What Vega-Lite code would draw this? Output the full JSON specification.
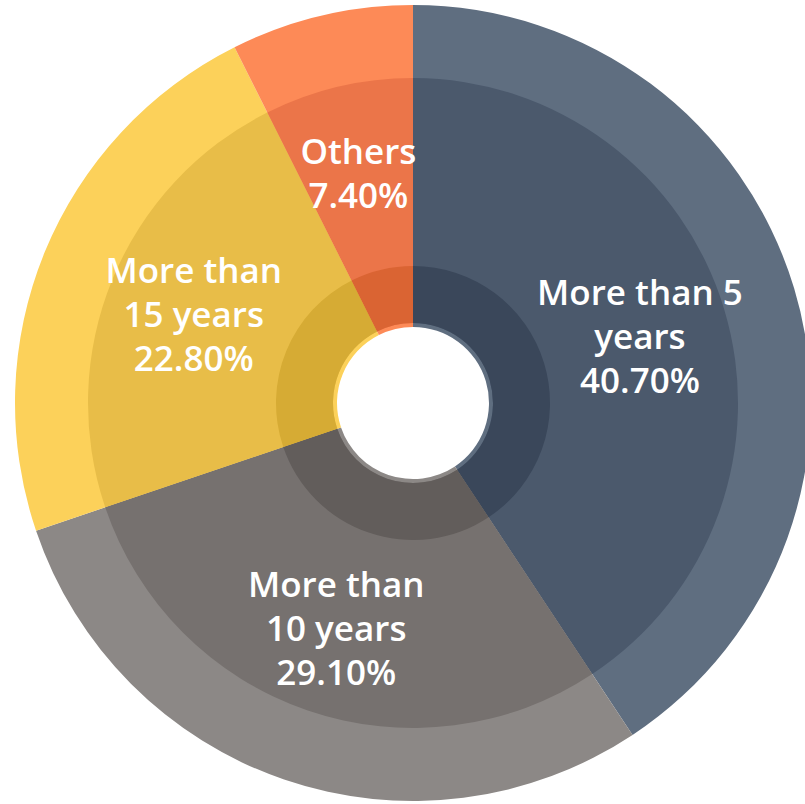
{
  "$schema": "https://vega.github.io/schema/vega-lite/v6.json",
  "width": 826,
  "height": 806,
  "autosize": "none",
  "padding": 0,
  "background": "white",
  "config": {"view": {"stroke": null}},
  "data": {
    "values": [
      {"category": "More than 5 years", "label": "More than 5\nyears\n40.70%", "lines": 3, "value": 40.7, "order": 1},
      {"category": "More than 10 years", "label": "More than\n10 years\n29.10%", "lines": 3, "value": 29.1, "order": 2},
      {"category": "More than 15 years", "label": "More than\n15 years\n22.80%", "lines": 3, "value": 22.8, "order": 3},
      {"category": "Others", "label": "Others\n7.40%", "lines": 2, "value": 7.4, "order": 4}
    ]
  },
  "encoding": {
    "theta": {"field": "value", "type": "quantitative", "stack": true},
    "order": {"field": "order", "type": "quantitative"}
  },
  "layer": [
    {
      "mark": {"type": "arc", "outerRadius": 398, "innerRadius": 76},
      "encoding": {
        "color": {
          "field": "category",
          "type": "nominal",
          "scale": {
            "domain": ["More than 5 years", "More than 10 years", "More than 15 years", "Others"],
            "range": ["#5f6e80", "#8c8886", "#fcd15a", "#fd8a57"]
          },
          "legend": null
        }
      }
    },
    {
      "mark": {"type": "arc", "outerRadius": 325, "innerRadius": 80},
      "encoding": {
        "color": {
          "field": "category",
          "type": "nominal",
          "scale": {
            "domain": ["More than 5 years", "More than 10 years", "More than 15 years", "Others"],
            "range": ["#4b596c", "#76716f", "#e8bd48", "#eb7549"]
          },
          "legend": null
        }
      }
    },
    {
      "mark": {"type": "arc", "outerRadius": 137, "innerRadius": 80},
      "encoding": {
        "color": {
          "field": "category",
          "type": "nominal",
          "scale": {
            "domain": ["More than 5 years", "More than 10 years", "More than 15 years", "Others"],
            "range": ["#3a475a", "#625d5b", "#d6ab34", "#da6433"]
          },
          "legend": null
        }
      }
    },
    {
      "mark": {
        "type": "text",
        "radius": 237,
        "lineBreak": "\n",
        "fontSize": 35,
        "fontWeight": 600,
        "lineHeight": 44,
        "dy": -41,
        "font": "Open Sans",
        "color": "white",
        "align": "center",
        "baseline": "middle"
      },
      "encoding": {
        "text": {"field": "label"},
        "opacity": {"condition": {"test": "datum.lines == 3", "value": 1}, "value": 0}
      }
    },
    {
      "mark": {
        "type": "text",
        "radius": 237,
        "lineBreak": "\n",
        "fontSize": 35,
        "fontWeight": 600,
        "lineHeight": 44,
        "dy": -19,
        "font": "Open Sans",
        "color": "white",
        "align": "center",
        "baseline": "middle"
      },
      "encoding": {
        "text": {"field": "label"},
        "opacity": {"condition": {"test": "datum.lines == 2", "value": 1}, "value": 0}
      }
    }
  ],
  "resolve": {"scale": {"color": "independent"}}
}
